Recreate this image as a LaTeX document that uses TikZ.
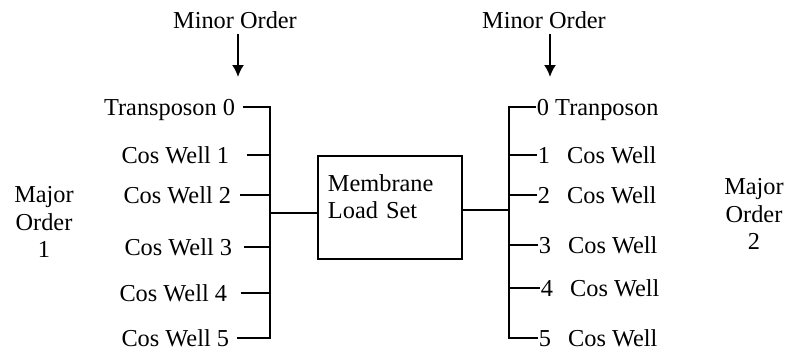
\documentclass[tikz,border=0pt]{standalone}
\usepackage{fontspec}
\setmainfont{Liberation Serif}
\usetikzlibrary{arrows.meta}

\begin{document}
\begin{tikzpicture}[x=0.025cm,y=-0.025cm,>={Latex[length=0.3cm,width=0.3cm]},
  line width=1.4pt,
  every node/.style={font=\fontsize{17.3}{19.5}\selectfont},
  lbl/.style={inner sep=0pt,text depth=0pt},
  box/.style={draw,align=left,text width=3.1cm,inner xsep=0.25cm,inner ysep=0.45cm,text depth=1.235cm}]
  \useasboundingbox (0,0) rectangle (786,351);

  % minor order headings
  \node (mol) at (235,20) {Minor Order};
  \node (mor) at (544,20) {Minor Order};
  \coordinate (al) at (238,77);
  \coordinate (ar) at (550,77);
  \draw[->] (mol.south -| al) -- (al);
  \draw[->] (mor.south -| ar) -- (ar);

  % major order side labels
  \node[align=center] (maj1) at (44,222) {Major\\Order\\1};
  \node[align=center] (maj2) at (754,214) {Major\\Order\\2};

  % load set box in the middle
  \node[box] (mls) at (390,207.5) {Membrane\\Load Set};

  % left group
  \node[lbl,anchor=east] (l0) at (236,107) {Transposon 0};
  \node[lbl,anchor=east] (l1) at (230,155) {Cos Well 1};
  \node[lbl,anchor=east] (l2) at (232,195) {Cos Well 2};
  \node[lbl,anchor=east] (l3) at (233,247) {Cos Well 3};
  \node[lbl,anchor=east] (l4) at (228,293) {Cos Well 4};
  \node[lbl,anchor=east] (l5) at (230,338) {Cos Well 5};
  \coordinate (lbus) at (270,338);
  \draw ([xshift=5pt]l0.east) -| (lbus) -- ([xshift=5pt]l5.east);
  \draw ([xshift=12pt]l1.east) -- (l1.east -| lbus);
  \draw ([xshift=6pt]l2.east) -- (l2.east -| lbus);
  \draw ([xshift=8pt]l3.east) -- (l3.east -| lbus);
  \draw ([xshift=9pt]l4.east) -- (l4.east -| lbus);

  % right group
  \node[lbl,anchor=west] (r0) at (536,107) {0 Tranposon};
  \node[lbl,anchor=west] (r1) at (537,155) {1\hspace{0.7em}Cos Well};
  \node[lbl,anchor=west] (r2) at (537,195) {2\hspace{0.7em}Cos Well};
  \node[lbl,anchor=west] (r3) at (538,245) {3\hspace{0.7em}Cos Well};
  \node[lbl,anchor=west] (r4) at (540,288) {4\hspace{0.7em}Cos Well};
  \node[lbl,anchor=west] (r5) at (538,338) {5\hspace{0.7em}Cos Well};
  \coordinate (rbus) at (509,338);
  \draw (r0.west) -| (rbus) -- (r5.west);
  \draw (r1.west) -- (r1.west -| rbus);
  \draw (r2.west) -- (r2.west -| rbus);
  \draw (r3.west) -- (r3.west -| rbus);
  \draw (r4.west) -- (r4.west -| rbus);

  % box to both buses, a little below the middle
  \draw ([yshift=-4pt]mls.west) -- ([yshift=-4pt]mls.west -| lbus);
  \draw ([yshift=-2pt]mls.east) -- ([yshift=-2pt]mls.east -| rbus);
\end{tikzpicture}
\end{document}
